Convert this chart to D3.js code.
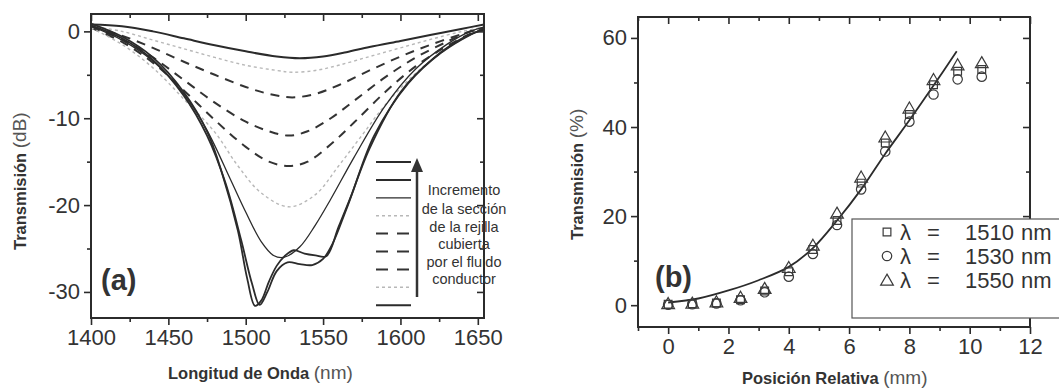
<!DOCTYPE html>
<html><head><meta charset="utf-8">
<script src="https://cdn.jsdelivr.net/npm/d3@7"></script>
<style>
html,body{margin:0;padding:0;background:#fff;}
svg{display:block;font-family:"Liberation Sans",Arial,sans-serif;}
</style></head>
<body><svg id="c" width="1059" height="390"></svg>
<script>
// ---------- Panel (a) data: wavelength (nm) vs transmission (dB) ----------
const wlTicks = [1400,1450,1500,1550,1600,1650];
const wlMinor = [1425,1475,1525,1575,1625];
const dbTicks = [0,-10,-20,-30];
const dbMinor = [-5,-15,-25];
const curveSolidTop = [[1400,0.8],[1420,0.6],[1440,0.0],[1460,-0.8],[1480,-1.6],[1500,-2.3],[1520,-2.9],[1535,-3.1],[1550,-2.9],[1565,-2.4],[1580,-1.8],[1600,-1.1],[1620,-0.4],[1640,0.3],[1654,0.8]];
const curveDotted1 = [[1400,0.6],[1420,0.0],[1440,-1.0],[1460,-2.0],[1480,-3.0],[1500,-3.9],[1520,-4.5],[1530,-4.7],[1545,-4.5],[1560,-3.9],[1580,-2.9],[1600,-1.9],[1620,-0.9],[1640,0.0],[1654,0.5]];
const curveDashed1 = [[1400,0.5],[1420,-0.5],[1440,-1.9],[1460,-3.5],[1480,-5.0],[1500,-6.4],[1515,-7.2],[1530,-7.6],[1545,-7.2],[1560,-6.2],[1580,-4.5],[1600,-2.9],[1620,-1.5],[1640,-0.3],[1654,0.4]];
const curveDashed2 = [[1400,0.5],[1420,-0.9],[1440,-3.0],[1460,-5.6],[1480,-8.2],[1500,-10.4],[1515,-11.5],[1528,-12.0],[1540,-11.5],[1555,-10.0],[1570,-8.0],[1590,-5.3],[1610,-3.0],[1630,-1.2],[1645,0.0],[1654,0.4]];
const curveDashed3 = [[1400,0.4],[1420,-1.2],[1440,-3.6],[1460,-6.8],[1480,-10.2],[1500,-13.3],[1515,-15.0],[1528,-15.5],[1540,-15.0],[1555,-13.0],[1570,-10.5],[1590,-7.0],[1610,-4.0],[1630,-1.7],[1645,-0.3],[1654,0.3]];
const curveDotted2 = [[1400,0.4],[1420,-1.5],[1440,-4.2],[1460,-7.8],[1480,-11.6],[1495,-15.5],[1510,-18.6],[1528,-20.2],[1545,-18.8],[1560,-15.5],[1575,-12.0],[1590,-8.5],[1610,-4.8],[1630,-2.0],[1645,-0.4],[1654,0.3]];
const curveSolidThin = [[1400,0.6],[1420,-1.0],[1440,-3.4],[1460,-7.2],[1475,-11.4],[1490,-17.0],[1500,-20.8],[1510,-24.2],[1518,-25.8],[1525,-26.0],[1535,-24.8],[1545,-22.3],[1555,-19.3],[1570,-14.5],[1590,-8.6],[1610,-4.3],[1630,-1.5],[1645,0.0],[1654,0.5]];
const curveSolidDeep1 = [[1400,0.9],[1420,-0.6],[1440,-3.0],[1460,-7.0],[1475,-11.5],[1485,-16.5],[1495,-23.0],[1501,-28.5],[1506,-31.6],[1510,-31.0],[1515,-28.8],[1520,-27.0],[1525,-25.9],[1531,-25.2],[1538,-25.6],[1545,-25.8],[1552,-25.9],[1560,-22.5],[1568,-19.0],[1583,-12.0],[1605,-6.0],[1626,-2.5],[1645,-0.4],[1654,0.3]];
const curveSolidDeep2 = [[1400,0.7],[1420,-0.8],[1440,-3.3],[1460,-7.4],[1475,-12.0],[1487,-17.5],[1497,-24.0],[1504,-29.0],[1509,-31.5],[1514,-30.0],[1520,-27.6],[1527,-26.6],[1535,-26.8],[1543,-26.9],[1550,-26.2],[1556,-24.5],[1565,-20.5],[1580,-13.5],[1600,-7.0],[1622,-3.0],[1642,-0.6],[1654,0.2]];

// ---------- Panel (b) data: relative position (mm) vs transmission (%) ----------
const posTicks = [0,2,4,6,8,10,12];
const posMinor = [-1,1,3,5,7,9,11];
const pctTicks = [0,20,40,60];
const pctMinor = [10,30,50];
const positions = [0,0.8,1.6,2.4,3.2,4.0,4.8,5.6,6.4,7.2,8.0,8.8,9.6,10.4];
const trans1510 = [0.2,0.3,0.5,1.2,3.2,7.5,12.5,19.0,27.4,36.4,42.8,49.5,52.5,52.9];
const trans1530 = [0.1,0.2,0.4,1.1,2.9,6.4,11.5,18.0,26.0,34.5,41.2,47.3,50.7,51.3];
const trans1550 = [0.4,0.5,0.8,1.8,3.8,8.5,13.5,20.7,28.8,37.8,44.3,50.7,54.0,54.5];
const fitX = [0,1,2,3,4,4.8,5.6,6.4,7.2,8.0,8.8,9.57];
const fitY = [0.6,1.5,3.3,5.6,8.6,12.8,19.0,26.0,34.0,41.5,49.3,57.0];
const legendB = ["λ = 1510 nm","λ = 1530 nm","λ = 1550 nm"];
const legendA = ["Incremento","de la sección","de la rejilla","cubierta","por el fluido","conductor"];

const INK = "#2b2b2b", TXT = "#333";
const svg = d3.select("#c");
const fmtHyphen = d => String(d);

function frameAxes(g, x, y, xt, xm, yt, ym){
  const [x0,x1] = x.range(), [y0,y1] = y.range();
  const ax = (gen, tr) => g.append("g").attr("transform", tr).call(gen)
      .call(s => s.select(".domain").remove())
      .call(s => s.selectAll("line").attr("stroke", INK).attr("stroke-width", 1.6))
      .call(s => s.selectAll("text").attr("fill", TXT).attr("font-size", 22).attr("font-family","Liberation Sans, Arial, sans-serif"));
  ax(d3.axisBottom(x).tickValues(xt).tickSize(7).tickPadding(4).tickFormat(fmtHyphen), `translate(0,${y0})`);
  ax(d3.axisBottom(x).tickValues(xm).tickSize(4).tickFormat(""), `translate(0,${y0})`);
  ax(d3.axisTop(x).tickValues(xt).tickSize(-7).tickFormat(""), `translate(0,${y1})`);
  ax(d3.axisTop(x).tickValues(xm).tickSize(-4).tickFormat(""), `translate(0,${y1})`);
  ax(d3.axisLeft(y).tickValues(yt).tickSize(7).tickPadding(4).tickFormat(fmtHyphen), `translate(${x0},0)`);
  ax(d3.axisLeft(y).tickValues(ym).tickSize(4).tickFormat(""), `translate(${x0},0)`);
  ax(d3.axisRight(y).tickValues(yt).tickSize(-7).tickFormat(""), `translate(${x1},0)`);
  ax(d3.axisRight(y).tickValues(ym).tickSize(-4).tickFormat(""), `translate(${x1},0)`);
  g.append("rect").attr("x",x0).attr("y",y1).attr("width",x1-x0).attr("height",y0-y1)
    .attr("fill","none").attr("stroke",INK).attr("stroke-width",2);
}

// ================= Panel (a) =================
const xa = d3.scaleLinear().domain([1400,1654]).range([91,484]);
const ya = d3.scaleLinear().domain([-33,2]).range([318,14]);
const ga = svg.append("g");
const lineA = d3.line().x(d=>xa(d[0])).y(d=>ya(d[1])).curve(d3.curveCatmullRom.alpha(0.5));
const styles = {
  solid:  {stroke: INK, w: 2.0, dash: null},
  thin:   {stroke: INK, w: 1.3, dash: null},
  deep:   {stroke: INK, w: 1.8, dash: null},
  dashed: {stroke: "#333", w: 2.0, dash: "9,7"},
  dotted: {stroke: "#b8b8b8", w: 1.4, dash: "3,3"}
};
const curves = [
  [curveSolidTop,"solid"],[curveDotted1,"dotted"],[curveDashed1,"dashed"],[curveDashed2,"dashed"],
  [curveDashed3,"dashed"],[curveDotted2,"dotted"],[curveSolidThin,"thin"],[curveSolidDeep1,"deep"],[curveSolidDeep2,"deep"]
];
curves.forEach(([data,st]) => {
  const s = styles[st];
  ga.append("path").attr("d", lineA(data)).attr("fill","none").attr("stroke",s.stroke)
    .attr("stroke-width",s.w).attr("stroke-dasharray",s.dash).attr("stroke-linejoin","round");
});
frameAxes(ga, xa, ya, wlTicks, wlMinor, dbTicks, dbMinor);

// legend (a)
const legStyles = ["solid","solid","thin","dotted","dashed","dashed","dashed","dotted","solid"];
legStyles.forEach((st,i) => {
  const s = styles[st], yy = 162 + i*17.9;
  ga.append("line").attr("x1",376).attr("x2",411).attr("y1",yy).attr("y2",yy)
    .attr("stroke",s.stroke).attr("stroke-width",s.w)
    .attr("stroke-dasharray", st==="dashed" ? "12,9" : s.dash);
});
ga.append("line").attr("x1",417).attr("x2",417).attr("y1",297).attr("y2",170).attr("stroke","#333").attr("stroke-width",2.5);
ga.append("path").attr("d","M411,172 L417,158 L423,172 Z").attr("fill","#333");
legendA.forEach((t,i) => {
  ga.append("text").attr("x",464).attr("y",[195,214,232,249,267,284][i]).attr("text-anchor","middle")
    .attr("font-size",14.5).attr("fill",TXT).text(t);
});
ga.append("text").attr("x",101).attr("y",290).attr("font-size",29).attr("font-weight","bold").attr("fill",TXT).text("(a)");
ga.append("text").attr("x",168).attr("y",379).attr("font-size",16.5).attr("font-weight","bold").attr("fill",TXT)
  .text("Longitud de Onda ").append("tspan").attr("font-weight","normal").attr("font-size",19).attr("fill","#555").text("(nm)");
ga.append("text").attr("transform","translate(26,250) rotate(-90)").attr("font-size",16.5).attr("font-weight","bold").attr("fill",TXT)
  .text("Transmisión  ").append("tspan").attr("font-weight","normal").attr("font-size",19).attr("fill","#555").text("(dB)");

// ================= Panel (b) =================
const xb = d3.scaleLinear().domain([-1,12]).range([638,1030]);
const yb = d3.scaleLinear().domain([-4.9,64.7]).range([327,17]);
const gb = svg.append("g");
frameAxes(gb, xb, yb, posTicks, posMinor, pctTicks, pctMinor);
const fitLine = d3.line().x(d=>xb(d[0])).y(d=>yb(d[1])).curve(d3.curveCatmullRom.alpha(0.5));
gb.append("path").attr("d", fitLine(fitX.map((v,i)=>[v,fitY[i]]))).attr("fill","none").attr("stroke",INK).attr("stroke-width",1.8);

const sym = {
  sq: d3.symbol().type(d3.symbolSquare).size(60),
  ci: d3.symbol().type(d3.symbolCircle).size(70),
  tr: d3.symbol().type(d3.symbolTriangle).size(70)
};
function drawSeries(vals, key){
  gb.selectAll(null).data(positions.map((p,i)=>[p,vals[i]])).enter().append("path")
    .attr("d", sym[key]()).attr("transform", d=>`translate(${xb(d[0])},${yb(d[1]) + (key==="tr"?1.5:0)})`)
    .attr("fill","none").attr("stroke","#3a3a3a").attr("stroke-width",1.2);
}
drawSeries(trans1530,"ci");
drawSeries(trans1510,"sq");
drawSeries(trans1550,"tr");

gb.append("text").attr("x",655).attr("y",287).attr("font-size",29).attr("font-weight","bold").attr("fill",TXT).text("(b)");

// legend (b)
gb.append("rect").attr("x",852).attr("y",219).attr("width",230).attr("height",99).attr("fill","#fff").attr("stroke","#555").attr("stroke-width",1.2);
["sq","ci","tr"].forEach((k,i) => {
  const yy = 232 + i*24;
  gb.append("path").attr("d", sym[k]()).attr("transform",`translate(887,${yy + (k==="tr"?1.5:0)})`).attr("fill","none").attr("stroke","#3a3a3a").attr("stroke-width",1.2);
  const parts = legendB[i].split(" ");
  const t = gb.append("text").attr("y", yy+8).attr("font-size",22).attr("fill",TXT);
  t.append("tspan").attr("x",900).text(parts[0]);
  t.append("tspan").attr("x",927).text(parts[1]);
  t.append("tspan").attr("x",965).text(parts[2]);
  t.append("tspan").attr("x",1021).text(parts[3]);
});

gb.append("text").attr("x",742).attr("y",384).attr("font-size",16.5).attr("font-weight","bold").attr("fill",TXT)
  .text("Posición Relativa  ").append("tspan").attr("font-weight","normal").attr("font-size",19).attr("fill","#555").text("(mm)");
gb.append("text").attr("transform","translate(583,240) rotate(-90)").attr("font-size",16.5).attr("font-weight","bold").attr("fill",TXT)
  .text("Transmisión  ").append("tspan").attr("font-weight","normal").attr("font-size",19).attr("fill","#555").text("(%)");
</script>
</body></html>
